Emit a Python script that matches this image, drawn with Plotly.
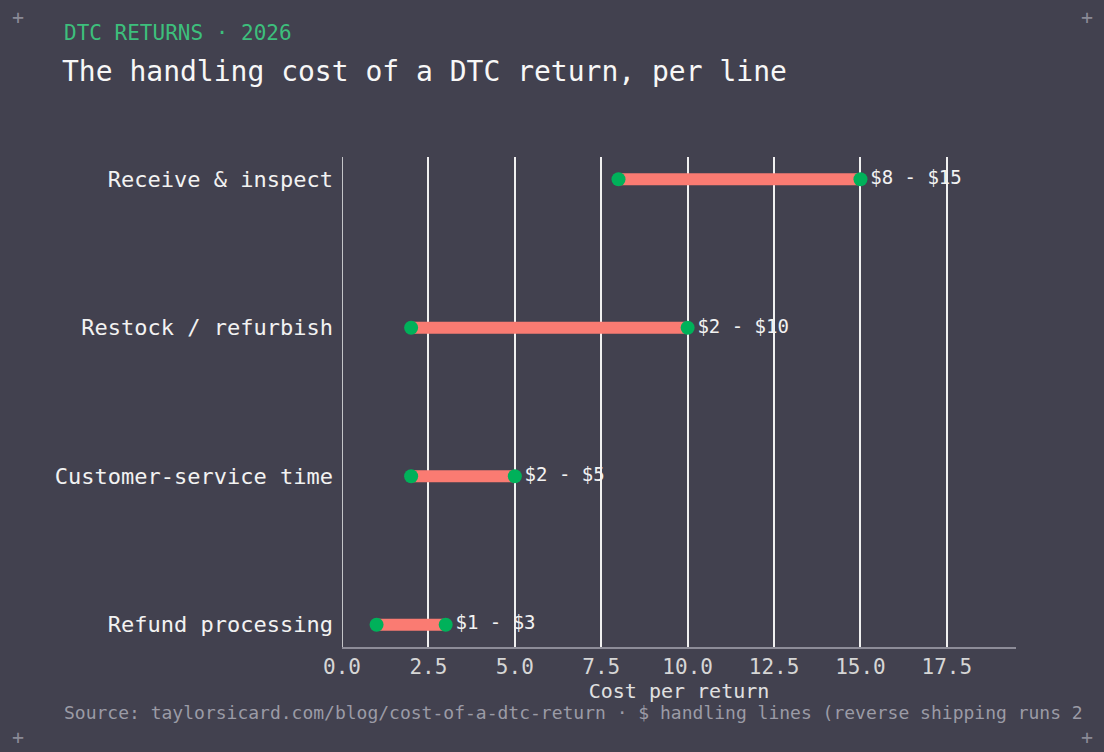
import plotly.graph_objects as go

categories = ["Receive & inspect", "Restock / refurbish", "Customer-service time", "Refund processing"]
low_cost = [8, 2, 2, 1]
high_cost = [15, 10, 5, 3]
range_labels = ["$8 - $15", "$2 - $10", "$2 - $5", "$1 - $3"]

BG = "#42414f"
FONT = "DejaVu Sans Mono"
CORAL = "#fa7b72"
GREEN = "#00b15a"

fig = go.Figure()

# bars between low and high
for cat, lo, hi in zip(categories, low_cost, high_cost):
    fig.add_trace(go.Scatter(
        x=[lo, hi], y=[cat, cat], mode="lines",
        line=dict(color=CORAL, width=12),
        hoverinfo="skip", showlegend=False))

fig.add_trace(go.Scatter(
    x=low_cost, y=categories, mode="markers",
    marker=dict(color=GREEN, size=14),
    showlegend=False))
fig.add_trace(go.Scatter(
    x=high_cost, y=categories, mode="markers+text",
    marker=dict(color=GREEN, size=14),
    text=range_labels, textposition="middle right",
    textfont=dict(family=FONT, size=19, color="#f2f2f2"),
    showlegend=False))

L, R, T, B = 342, 88, 157, 105
W, H = 1104, 752
pw = W - L - R
ph = H - T - B

def px_x(x):
    return (x - L) / pw

def px_y(y):
    return (H - B - y) / ph

fig.update_layout(
    width=W, height=H,
    paper_bgcolor=BG, plot_bgcolor=BG,
    margin=dict(l=L, r=R, t=T, b=B),
    font=dict(family=FONT, color="#e6e6e6"),
    xaxis=dict(
        range=[0, 19.5], dtick=2.5, tickformat=".1f",
        showgrid=True, gridcolor="#f0f0f0", gridwidth=1.5,
        zeroline=False, showline=True, linecolor="#8d8c98", linewidth=2,
        ticks="", tickfont=dict(size=21, color="#d6d6d6"),
        title=dict(text="Cost per return", font=dict(size=20, color="#e0e0e0"), standoff=6),
    ),
    yaxis=dict(
        categoryorder="array", categoryarray=categories[::-1],
        range=[-0.15, 3.15],
        showgrid=False, zeroline=False, showline=False,
        ticks="", ticklabelstandoff=8,
        tickfont=dict(size=22, color="#f2f2f2"),
    ),
    shapes=[dict(type="line", xref="x", yref="paper", x0=0, x1=0, y0=0, y1=1,
                 line=dict(color="#f0f0f0", width=1.5))],
    annotations=[
        dict(text="DTC RETURNS · 2026", xref="paper", yref="paper",
             x=px_x(62), y=px_y(33), xanchor="left", yanchor="middle", showarrow=False,
             font=dict(size=21, color="#3dbf7c")),
        dict(text="The handling cost of a DTC return, per line", xref="paper", yref="paper",
             x=px_x(60), y=px_y(72), xanchor="left", yanchor="middle", showarrow=False,
             font=dict(size=28, color="#f7f7f7")),
        dict(text="Source: taylorsicard.com/blog/cost-of-a-dtc-return · $ handling lines (reverse shipping runs 2",
             xref="paper", yref="paper",
             x=px_x(62), y=px_y(712), xanchor="left", yanchor="middle", showarrow=False,
             font=dict(size=18, color="#9b9ba6")),
    ] + [
        dict(text="+", xref="paper", yref="paper", x=px_x(cx), y=px_y(cy),
             xanchor="center", yanchor="middle", showarrow=False,
             font=dict(size=20, color="#8a8a96"))
        for cx, cy in [(18, 17), (1087, 17), (18, 737), (1087, 737)]
    ],
)

fig.write_html("out.html", config={"displayModeBar": False},
               post_script="document.body.style.margin='0';document.body.style.overflow='hidden';")
